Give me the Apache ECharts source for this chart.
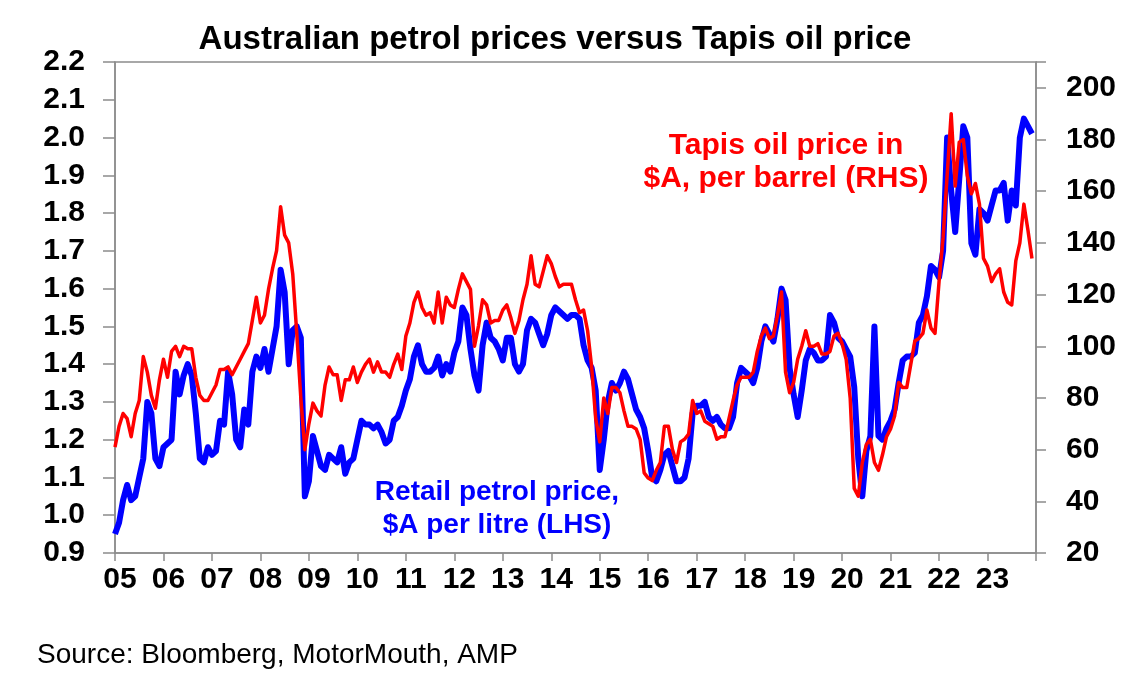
<!DOCTYPE html>
<html>
<head>
<meta charset="utf-8">
<title>Australian petrol prices versus Tapis oil price</title>
<script src="https://cdn.jsdelivr.net/npm/echarts@6.0.0/dist/echarts.min.js"></script>
<style>
    html, body { margin: 0; padding: 0; background: #fff; }
    #main { width: 1142px; height: 682px; }
</style>
</head>
<body>
<div id="main"></div>
<script>
// monthly, Jan 2005 .. Dec 2023
var startYear = 2005;

// retail petrol price, $A per litre (LHS)
var petrol = [
    0.95, 0.98, 1.04, 1.08, 1.04, 1.05, 1.10, 1.15, 1.30, 1.27, 1.15, 1.13,
    1.18, 1.19, 1.20, 1.38, 1.32, 1.37, 1.40, 1.37, 1.27, 1.15, 1.14, 1.18,
    1.16, 1.17, 1.25, 1.24, 1.38, 1.32, 1.20, 1.18, 1.28, 1.24, 1.38, 1.42,
    1.39, 1.44, 1.38, 1.44, 1.50, 1.65, 1.59, 1.40, 1.49, 1.50, 1.47, 1.05,
    1.09, 1.21, 1.17, 1.13, 1.12, 1.16, 1.15, 1.14, 1.18, 1.11, 1.14, 1.15,
    1.20, 1.25, 1.24, 1.24, 1.23, 1.24, 1.22, 1.19, 1.20, 1.25, 1.26, 1.29,
    1.33, 1.36, 1.42, 1.45, 1.40, 1.38, 1.38, 1.39, 1.42, 1.37, 1.40, 1.38,
    1.43, 1.46, 1.55, 1.53, 1.44, 1.37, 1.33, 1.45, 1.51, 1.47, 1.46, 1.44,
    1.41, 1.47, 1.47, 1.40, 1.38, 1.40, 1.49, 1.52, 1.51, 1.48, 1.45, 1.48,
    1.53, 1.55, 1.54, 1.53, 1.52, 1.53, 1.53, 1.52, 1.45, 1.41, 1.39, 1.33,
    1.12, 1.20, 1.30, 1.35, 1.33, 1.35, 1.38, 1.36, 1.32, 1.28, 1.26, 1.23,
    1.17, 1.10, 1.09, 1.12, 1.16, 1.17, 1.13, 1.09, 1.09, 1.10, 1.15, 1.27,
    1.29, 1.29, 1.30, 1.26, 1.25, 1.26, 1.24, 1.23, 1.23, 1.26, 1.35, 1.39,
    1.38, 1.37, 1.35, 1.39, 1.46, 1.50, 1.48, 1.46, 1.52, 1.60, 1.57, 1.39,
    1.32, 1.26, 1.33, 1.41, 1.44, 1.43, 1.41, 1.41, 1.42, 1.53, 1.51, 1.47,
    1.46, 1.44, 1.42, 1.34, 1.15, 1.05, 1.17, 1.21, 1.50, 1.21, 1.20, 1.23,
    1.25, 1.28, 1.35, 1.41, 1.42, 1.42, 1.43, 1.51, 1.53, 1.58, 1.66, 1.65,
    1.63, 1.70, 2.00, 1.86, 1.75, 1.89, 2.03, 2.00, 1.72, 1.69, 1.81, 1.80,
    1.78, 1.82, 1.86, 1.86, 1.88, 1.78, 1.86, 1.82, 2.00, 2.05, 2.03, 2.01
];

// Tapis oil price, $A per barrel (RHS)
var tapis = [
    61, 69, 74, 72, 65, 74, 79, 96, 90, 81, 76, 87,
    95, 88, 98, 100, 96, 100, 99, 99, 88, 81, 79, 79,
    82, 85, 91, 91, 92, 89, 92, 95, 98, 101, 110, 119,
    109, 112, 122, 130, 137, 154, 143, 140, 128, 105, 80, 60,
    70, 78, 75, 73, 85, 92, 89, 89, 79, 87, 87, 92,
    86, 90, 93, 95, 90, 94, 90, 90, 88, 93, 97, 91,
    104, 109, 117, 121, 115, 112, 113, 109, 121, 109, 119, 116,
    115, 122, 128, 125, 122, 100, 108, 118, 116, 109, 110, 110,
    114, 116, 111, 105, 110, 118, 124, 135, 124, 123, 129, 135,
    132, 127, 123, 124, 124, 124, 118, 113, 114, 106, 92, 72,
    63, 80, 74, 84, 84, 82, 75, 69, 69, 68, 64, 51,
    49, 48, 52, 55, 69, 69, 60, 55, 63, 64, 66, 79,
    74, 75, 71, 70, 69, 64, 65, 65, 72, 79, 85, 88,
    88, 88, 90, 98, 104, 107, 103, 104, 112, 121, 90, 82,
    86, 95, 100, 106, 100, 100, 101, 97, 97, 98, 104, 105,
    101, 95, 80, 45, 42, 55, 62, 64, 55, 52, 58, 65,
    68, 73, 86, 84, 84, 93, 102, 103, 105, 114, 107, 105,
    125, 142, 166, 190, 162, 179, 180, 166, 159, 163, 155, 134,
    131, 125, 128, 130, 121, 117, 116, 133, 140, 155, 145, 134
];

var leftTicks = [0.9, 2.2, 0.1];
var rightTicks = [20, 210, 20];
var xYears = [2005, 2024];

function toPoints(arr) {
    return arr.map(function (v, i) { return [startYear + i / 12, v]; });
}

var FONT = "'Liberation Sans', Arial, sans-serif";
var AXIS_GREY = '#8c8c8c';
var myChart = echarts.init(document.getElementById('main'));

var option = {
    animation: false,
    backgroundColor: '#fff',
    grid: {
        left: 115,
        right: 106,
        top: 62,
        bottom: 129,
        show: true,
        borderColor: AXIS_GREY,
        borderWidth: 1.5
    },
    xAxis: {
        type: 'value',
        min: xYears[0],
        max: xYears[1],
        interval: 1,
        axisLine: { lineStyle: { color: AXIS_GREY, width: 1.5 } },
        axisTick: { inside: false, length: 8, lineStyle: { color: AXIS_GREY, width: 1.5 } },
        splitLine: { show: false },
        axisLabel: {
            margin: 12,
            padding: [0, 0, 0, 10],
            color: '#000',
            fontFamily: FONT,
            fontWeight: 'bold',
            fontSize: 30,
            formatter: function (v) {
                if (v >= xYears[1]) return '';
                return String(v).slice(2);
            }
        }
    },
    yAxis: [
        {
            type: 'value',
            position: 'left',
            min: leftTicks[0],
            max: leftTicks[1],
            interval: leftTicks[2],
            axisLine: { show: true, lineStyle: { color: AXIS_GREY, width: 1.5 } },
            axisTick: { show: true, inside: false, length: 12, lineStyle: { color: AXIS_GREY, width: 1.5 } },
            splitLine: { show: false },
            axisLabel: {
                margin: 30,
                color: '#000',
                fontFamily: FONT,
                fontWeight: 'bold',
                fontSize: 30,
                formatter: function (v) { return v.toFixed(1); }
            }
        },
        {
            type: 'value',
            position: 'right',
            min: rightTicks[0],
            max: rightTicks[1],
            interval: rightTicks[2],
            axisLine: { show: true, lineStyle: { color: AXIS_GREY, width: 1.5 } },
            axisTick: { show: true, inside: false, length: 10, lineStyle: { color: AXIS_GREY, width: 1.5 } },
            splitLine: { show: false },
            axisLabel: {
                margin: 30,
                color: '#000',
                fontFamily: FONT,
                fontWeight: 'bold',
                fontSize: 30,
                formatter: function (v) { return v > 200 ? '' : String(v); }
            }
        }
    ],
    series: [
        {
            name: 'Retail petrol price',
            type: 'line',
            yAxisIndex: 0,
            showSymbol: false,
            data: toPoints(petrol),
            lineStyle: { color: '#0000ff', width: 6, join: 'round' },
            itemStyle: { color: '#0000ff' },
            z: 2
        },
        {
            name: 'Tapis oil price',
            type: 'line',
            yAxisIndex: 1,
            showSymbol: false,
            data: toPoints(tapis),
            lineStyle: { color: '#ff0000', width: 3.5, join: 'round' },
            itemStyle: { color: '#ff0000' },
            z: 3
        }
    ],
    graphic: [
        {
            type: 'text', x: 555, y: 40,
            style: {
                text: 'Australian petrol prices versus Tapis oil price',
                fill: '#000', font: 'bold 33px ' + FONT,
                align: 'center', verticalAlign: 'middle'
            }
        },
        {
            type: 'text', x: 786, y: 162,
            style: {
                text: 'Tapis oil price in\n$A, per barrel (RHS)',
                fill: '#ff0000', font: 'bold 30px ' + FONT,
                align: 'center', verticalAlign: 'middle', lineHeight: 33
            }
        },
        {
            type: 'text', x: 497, y: 509,
            style: {
                text: 'Retail petrol price,\n$A per litre (LHS)',
                fill: '#0000ff', font: 'bold 28px ' + FONT,
                align: 'center', verticalAlign: 'middle', lineHeight: 33
            }
        },
        {
            type: 'text', x: 37, y: 655,
            style: {
                text: 'Source: Bloomberg, MotorMouth, AMP',
                fill: '#000', font: '28px ' + FONT,
                verticalAlign: 'middle'
            }
        }
    ]
};

myChart.setOption(option);
</script>
</body>
</html>
